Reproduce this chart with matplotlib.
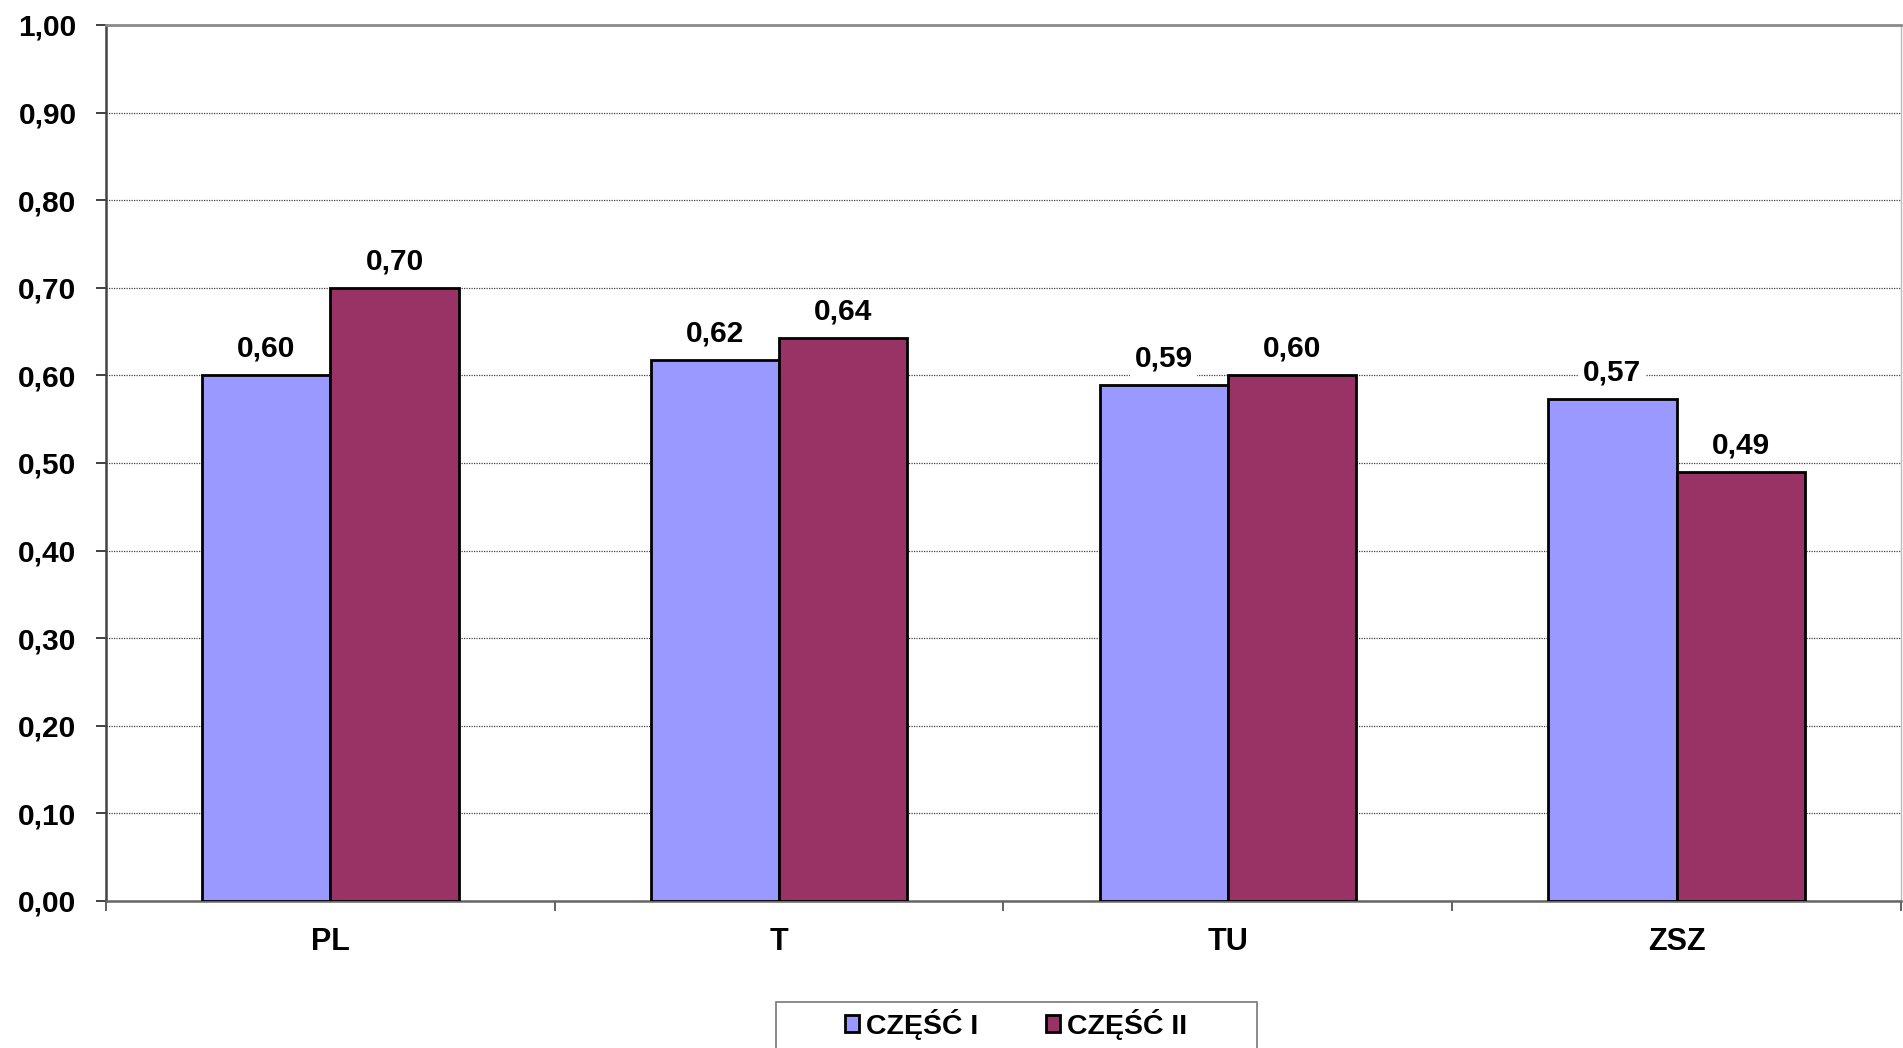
import matplotlib
matplotlib.use("Agg")
import matplotlib.pyplot as plt
import numpy as np
from matplotlib.patches import Patch, Rectangle

categories = ["PL", "T", "TU", "ZSZ"]
series_names = ["CZĘŚĆ I", "CZĘŚĆ II"]
part1 = [0.601, 0.618, 0.589, 0.573]
part2 = [0.700, 0.643, 0.600, 0.490]
yticks = [0.0, 0.1, 0.2, 0.3, 0.4, 0.5, 0.6, 0.7, 0.8, 0.9, 1.0]

colors = ["#9999FF", "#993366"]

plt.rcParams['font.family'] = ['Liberation Sans', 'DejaVu Sans']
plt.rcParams['font.weight'] = 'bold'
FS = 21.5

W, H = 1903, 1048
fig = plt.figure(figsize=(W/100, H/100), dpi=100)
ax = fig.add_axes([106/W, 1-901/H, (1901-106)/W, (901-25)/H])

x = np.arange(len(categories))
w = 0.286
for i, (vals, c, name) in enumerate(zip([part1, part2], colors, series_names)):
    pos = x + (i - 0.5) * w
    ax.bar(pos, vals, width=w, color=c, edgecolor="black", linewidth=2.0, zorder=3, label=name)
    for xp, v in zip(pos, vals):
        ax.annotate(f"{v:.2f}".replace(".", ","), (xp, v), xytext=(0, 9), textcoords="offset points",
                    ha="center", va="bottom", fontsize=FS, fontweight="bold", zorder=4,
                    bbox=dict(facecolor="white", edgecolor="none", pad=3))

ax.set_xlim(-0.5, len(categories) - 0.5)
ax.set_ylim(0, 1.0)
ax.set_yticks(yticks)
ax.set_yticklabels([f"{t:.2f}".replace(".", ",") for t in yticks], fontsize=FS, fontweight="bold")
ax.set_xticks(np.arange(len(categories) + 1) - 0.5)
ax.set_xticklabels([])
ax.set_xticks(x, minor=True)
ax.set_xticklabels(categories, minor=True, fontsize=22, fontweight="bold")
ax.tick_params(axis="x", which="minor", length=0, pad=18.5)
ax.tick_params(axis="x", which="major", length=7.5, width=1.3, color="#555555", direction="out")
ax.tick_params(axis="y", length=7.2, width=1.3, color="#333333", direction="out", pad=14)

ax.yaxis.grid(True, linestyle=(0, (1, 1)), color="#444444", linewidth=0.9, zorder=0)
ax.set_axisbelow(True)

ax.spines["left"].set_color("#444444")
ax.spines["left"].set_linewidth(1.8)
ax.spines["bottom"].set_color("#666666")
ax.spines["bottom"].set_linewidth(1.8)
ax.spines["top"].set_color("#8a8a8a")
ax.spines["top"].set_linewidth(2.0)
ax.spines["right"].set_color("#bbbbbb")
ax.spines["right"].set_linewidth(1.0)

# legend frame (Excel-style wide box, cut by the bottom of the figure)
fig.patches.append(Rectangle((776/W, -0.02), (1257-776)/W, 0.02 + 1 - 1002/H,
                             transform=fig.transFigure, facecolor="white",
                             edgecolor="#777777", linewidth=1.2, zorder=1))

handles = [Patch(facecolor=c, edgecolor="black", linewidth=2.0) for c in colors]
leg = fig.legend(handles, series_names, loc="center left",
                 bbox_to_anchor=(845/W, 1-1024/H), ncol=2, frameon=False,
                 prop={"weight": "bold", "size": 20.5},
                 handlelength=0.5, handleheight=0.5, handletextpad=0.25, columnspacing=2.35,
                 borderpad=0, fancybox=False, borderaxespad=0)
leg.set_zorder(2)

fig.savefig("out.png", dpi=100)
